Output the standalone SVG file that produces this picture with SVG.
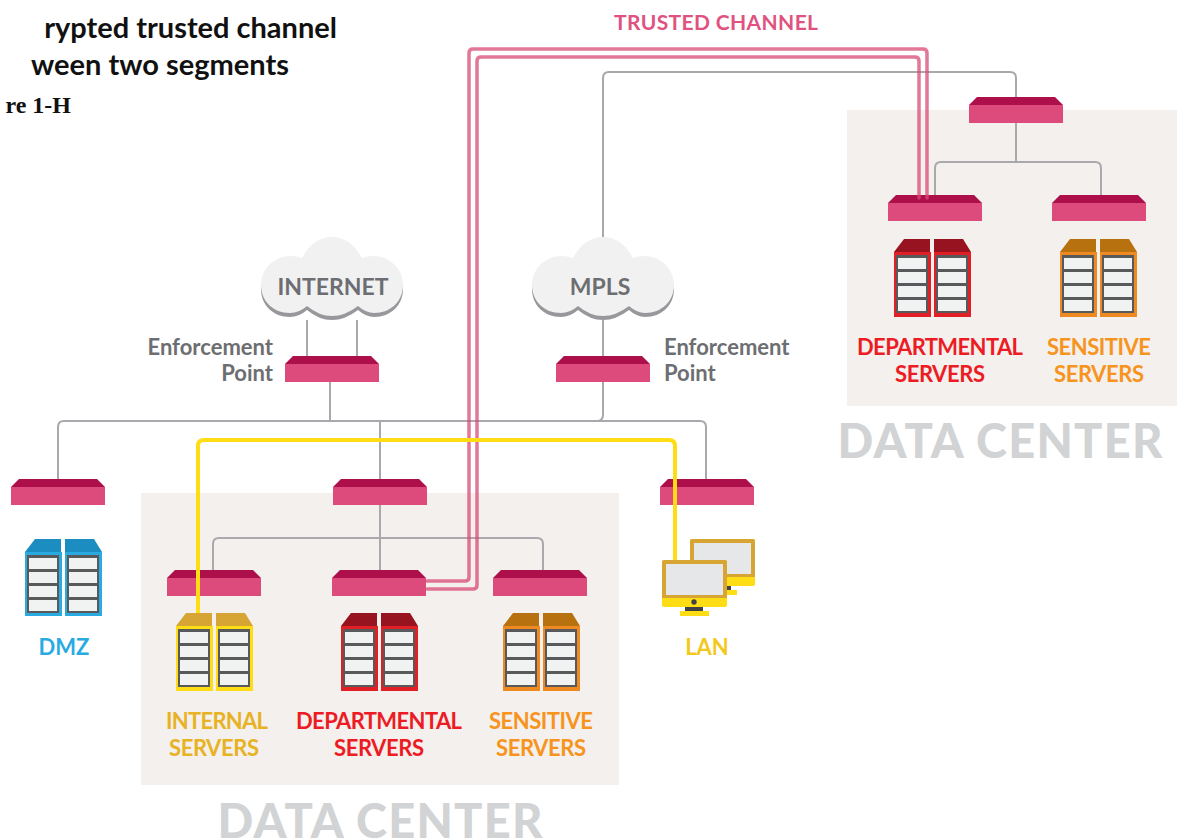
<svg xmlns="http://www.w3.org/2000/svg" xmlns:xlink="http://www.w3.org/1999/xlink" width="1177" height="839" viewBox="0 0 1177 839">
<style>
text{font-family:"Lato","Liberation Sans",sans-serif;font-weight:700}
.m{text-anchor:middle}
.lbl{font-size:22px}
.ep{font-size:22px;fill:#6d6e71}
.dc{font-size:47px;font-weight:900;fill:#d1d3d4;text-anchor:middle}
.g{fill:none;stroke:#a9a9ad;stroke-width:2}
.p{fill:none;stroke:#d94a76;stroke-width:3.5;stroke-opacity:.75;stroke-linecap:round;stroke-linejoin:round}
.y{fill:none;stroke:#ffdd15;stroke-width:4}
.yel{fill:#e8b225}.red{fill:#ed1c24}.ora{fill:#f7941d}.blu{fill:#29abe2}
</style>
<defs>
<g id="sw"><path d="M0 8L8 0H86L94 8Z" fill="#ad0f4a"/><rect y="8" width="94" height="18" fill="#dd4b7c"/></g>
<g id="rows"><rect x="2" y="16" width="32" height="58" fill="#58595b"/><rect x="4" y="19" width="28" height="11" fill="#f1f2f2"/><rect x="4" y="33" width="28" height="11" fill="#f1f2f2"/><rect x="4" y="47" width="28" height="11" fill="#f1f2f2"/><rect x="4" y="61" width="28" height="11" fill="#f1f2f2"/></g>
<g id="rack"><use href="#rows"/><use href="#rows" x="40"/></g>
<path id="cl" d="M46 69Q58 79 71 79Q84 79 97 69Q105 76 113 76C130 76 142 64 142 48C142 32 129 19 112 19Q106 19 101 21C94 8 84 0 71 0C58 0 48 8 41 21Q36 19 30 19C13 19 0 32 0 48C0 64 12 76 29 76Q38 76 46 69Z"/>
<g id="cloud"><use href="#cl" y="4" fill="#98989c"/><use href="#cl" fill="#f1f1f2"/></g>
<g id="mon"><rect width="65" height="47" rx="2" fill="#ffdd15"/><path d="M0 38V2Q0 0 2 0H63Q65 0 65 2V38Z" fill="#d6a534"/><rect x="4" y="4" width="57" height="31" fill="#e6e7e8"/><circle cx="32" cy="42" r="2.7" fill="#414042"/><rect x="23" y="47" width="18" height="4" fill="#414042"/><rect x="18" y="51" width="29" height="5" fill="#ffdd15"/></g>
</defs>

<rect id="dc1-bg" x="141" y="493" width="478" height="292" fill="#f3f0ed"/>
<rect id="dc2-bg" x="847" y="110" width="330" height="296" fill="#f3f0ed"/>

<g id="connectors">
<path class="g" d="M307 320V356M357 320V356M603 320V356M603 238V78Q603 72 609 72H1010Q1016 72 1016 78V97"/>
<path class="g" d="M330 382V421M603 382V415Q603 421 597 421M58 479V427Q58 421 64 421H700Q706 421 706 427V479M380 421V479M380 505V570M213 570V544Q213 538 219 538H537Q543 538 543 544V570"/>
<path class="g" d="M1016 123V162M935 195V168Q935 162 941 162H1095Q1101 162 1101 168V195"/>
</g>

<g id="sw-dc2-top"><use href="#sw" x="969" y="97"/></g>
<g id="sw-dc2-dept"><use href="#sw" x="888" y="195"/></g>
<g id="sw-dc2-sens"><use href="#sw" x="1052" y="195"/></g>
<g id="sw-ep1"><use href="#sw" x="285" y="356"/></g>
<g id="sw-ep2"><use href="#sw" x="556" y="356"/></g>
<g id="sw-dmz"><use href="#sw" x="11" y="479"/></g>
<g id="sw-dc1-top"><use href="#sw" x="333" y="479"/></g>
<g id="sw-lan"><use href="#sw" x="660" y="479"/></g>
<g id="sw-int"><use href="#sw" x="167" y="570"/></g>
<g id="sw-dept"><use href="#sw" x="332" y="570"/></g>
<g id="sw-sens"><use href="#sw" x="493" y="570"/></g>

<g id="connectors-trusted">
<path class="p" d="M427 581H465Q469 581 469 577V53Q469 49 473 49H923Q927 49 927 53V198"/>
<path class="p" d="M427 589H473Q477 589 477 585V61Q477 57 481 57H915Q919 57 919 61V198"/>
</g>

<g id="lan"><use href="#mon" x="690" y="539"/></g>
<g id="connectors-yellow"><path class="y" d="M198 613V446Q198 440 204 440H669Q675 440 675 446V562"/></g>
<g id="lan2"><use href="#mon" x="662" y="560"/><text class="lbl m" x="707" y="655" fill="#f3c91e">LAN</text></g>

<g id="cloud-internet"><use href="#cloud" x="261" y="237"/><text class="m" x="333" y="295" font-size="23" fill="#6d6e71">INTERNET</text></g>
<g id="cloud-mpls"><use href="#cloud" x="532" y="237"/><text class="m" x="600" y="295" font-size="23" fill="#6d6e71">MPLS</text></g>

<g id="srv-dmz">
<path d="M25 552L35 539H61V552ZM65 552V539H94L102 552Z" fill="#1c8dc0"/>
<rect x="25" y="552" width="37" height="64" fill="#29abe2"/><rect x="65" y="552" width="37" height="64" fill="#29abe2"/>
<use href="#rack" x="25" y="539"/><text class="lbl m blu" x="64" y="655">DMZ</text>
</g>
<g id="srv-internal">
<path d="M176 626L186 613H212V626ZM216 626V613H245L253 626Z" fill="#d6a534"/>
<rect x="176" y="626" width="37" height="65" fill="#ffdd15"/><rect x="216" y="626" width="37" height="65" fill="#ffdd15"/>
<use href="#rack" x="176" y="613"/>
<text class="lbl m yel" x="217" y="729" textLength="102">INTERNAL</text><text class="lbl m yel" x="214" y="756" textLength="90">SERVERS</text>
</g>
<g id="srv-dept">
<path d="M341 626L351 613H377V626ZM381 626V613H410L418 626Z" fill="#96131f"/>
<rect x="341" y="626" width="37" height="65" fill="#e01f26"/><rect x="381" y="626" width="37" height="65" fill="#e01f26"/>
<use href="#rack" x="341" y="613"/>
<text class="lbl m red" x="379" y="729" textLength="166">DEPARTMENTAL</text><text class="lbl m red" x="379" y="756" textLength="90">SERVERS</text>
</g>
<g id="srv-sens">
<path d="M503 626L513 613H539V626ZM543 626V613H572L580 626Z" fill="#b8710f"/>
<rect x="503" y="626" width="37" height="65" fill="#ef8a22"/><rect x="543" y="626" width="37" height="65" fill="#ef8a22"/>
<use href="#rack" x="503" y="613"/>
<text class="lbl m ora" x="541" y="729" textLength="104">SENSITIVE</text><text class="lbl m ora" x="541" y="756" textLength="90">SERVERS</text>
</g>
<g id="srv-dc2-dept">
<path d="M894 252L904 239H930V252ZM934 252V239H963L971 252Z" fill="#96131f"/>
<rect x="894" y="252" width="37" height="65" fill="#e01f26"/><rect x="934" y="252" width="37" height="65" fill="#e01f26"/>
<use href="#rack" x="894" y="239"/>
<text class="lbl m red" x="940" y="355" textLength="166">DEPARTMENTAL</text><text class="lbl m red" x="940" y="382" textLength="90">SERVERS</text>
</g>
<g id="srv-dc2-sens">
<path d="M1060 252L1070 239H1096V252ZM1100 252V239H1129L1137 252Z" fill="#b8710f"/>
<rect x="1060" y="252" width="37" height="65" fill="#ef8a22"/><rect x="1100" y="252" width="37" height="65" fill="#ef8a22"/>
<use href="#rack" x="1060" y="239"/>
<text class="lbl m ora" x="1099" y="355" textLength="104">SENSITIVE</text><text class="lbl m ora" x="1099" y="382" textLength="90">SERVERS</text>
</g>

<text class="ep" x="273" y="355" text-anchor="end">Enforcement</text>
<text class="ep" x="273" y="381" text-anchor="end">Point</text>
<text class="ep" x="664" y="355">Enforcement</text>
<text class="ep" x="664" y="381">Point</text>
<text x="716" y="30" class="m" font-size="21" fill="#e0527f" textLength="204">TRUSTED CHANNEL</text>
<text class="dc" x="380" y="838" textLength="325">DATA CENTER</text>
<text class="dc" x="1000" y="458" textLength="325">DATA CENTER</text>
<text x="337" y="38" text-anchor="end" font-size="29" fill="#111">rypted trusted channel</text>
<text x="289" y="75" text-anchor="end" font-size="29" fill="#111">ween two segments</text>
<text x="71" y="113" text-anchor="end" font-size="24" fill="#111" style="font-family:'Liberation Serif',serif">re 1-H</text>
</svg>
